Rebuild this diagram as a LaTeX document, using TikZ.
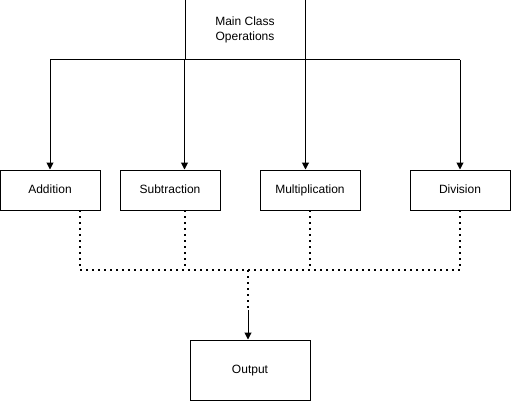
\documentclass[tikz,border=0pt]{standalone}
\usepackage{fontspec}
\setmainfont{Liberation Sans}
\usetikzlibrary{arrows.meta}
\begin{document}
\begin{tikzpicture}[x=1pt,y=-1pt,
  box/.style={draw=black,line width=1pt,fill=white,inner sep=0pt,align=center,font=\fontsize{12}{15}\selectfont},
  conn/.style={line width=1pt,-{Triangle[length=7pt,width=7pt]}},
  dotline/.style={line width=1.5pt,dash pattern=on 1.5pt off 4.5pt}]
\useasboundingbox (0,0) rectangle (511,401);
\node[box,minimum width=120pt,minimum height=60pt] (main) at (245,30) {Main Class\\Operations};
\node[box,minimum width=100pt,minimum height=40pt] (add) at (50,190) {\strut Addition};
\node[box,minimum width=100pt,minimum height=40pt] (sub) at (170,190) {\strut Subtraction};
\node[box,minimum width=100pt,minimum height=40pt] (mul) at (310,190) {\strut Multiplication};
\node[box,minimum width=100pt,minimum height=40pt] (div) at (460,190) {\strut Division};
\node[box,minimum width=120pt,minimum height=60pt] (out) at (250,370) {\strut Output};
\coordinate (tl) at (50,60);
\coordinate (tr) at (460,60);
\draw[line width=1pt] (tl) -- (tr);
\draw[conn] (tl) -- (add.north);
\draw[conn] (main.south west) -- (main.south west |- sub.north);
\draw[conn] (main.south east) -- (main.south east |- mul.north);
\draw[conn] (tr) -- (div.north);
\coordinate (ja) at (80,270);
\coordinate (js) at (185,270);
\coordinate (jm) at (310,270);
\coordinate (jd) at (460,270);
\coordinate (jo) at (248,270);
\draw[dotline] (80,210) -- (ja);
\draw[dotline] (185,210) -- (js);
\draw[dotline] (310,210) -- (jm);
\draw[dotline] (460,210) -- (jd);
\draw[dotline] (ja) -- (jd);
\draw[dotline] (jo) -- (248,310);
\draw[conn] (248,310) -- (out.north -| jo);
\end{tikzpicture}
\end{document}
